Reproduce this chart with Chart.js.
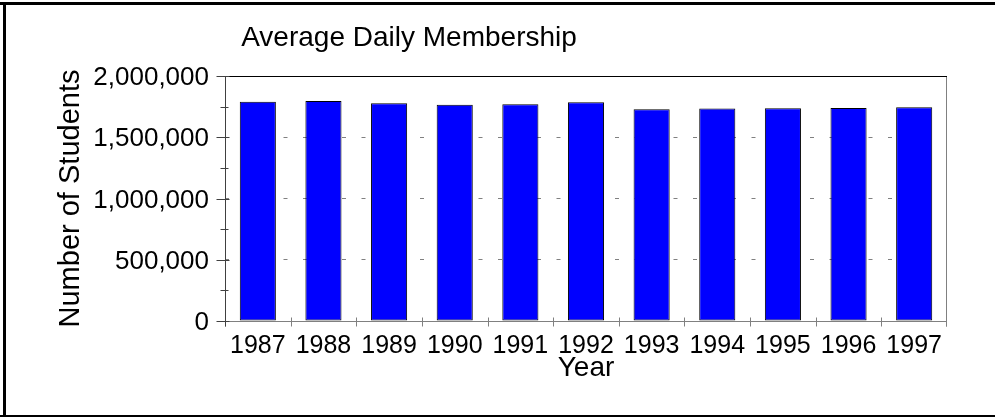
<!DOCTYPE html>
<html>
<head>
<meta charset="UTF-8">
<title>Average Daily Membership</title>
<script src="https://cdn.jsdelivr.net/npm/chart.js@4.4.0/dist/chart.umd.min.js"></script>
<style>
  html, body { margin: 0; padding: 0; background: #fff; }
  #wrap { width: 995px; height: 417px; }
</style>
</head>
<body>
<div id="wrap"><canvas id="chart" width="995" height="417"></canvas></div>
<script>
var years = ['1987', '1988', '1989', '1990', '1991', '1992', '1993', '1994', '1995', '1996', '1997'];
var students = [1790000, 1796000, 1777000, 1766000, 1769000, 1785000, 1728000, 1734000, 1736000, 1739000, 1744000];
var majorTicks = [0, 500000, 1000000, 1500000, 2000000];
var minorTicks = [250000, 750000, 1250000, 1750000];

var FONT = '"Liberation Sans", Arial, sans-serif';

// axis lines, tick marks, page frame and the title
var framePlugin = {
    id: 'frame',
    afterDatasetsDraw: function (chart) {
        var ctx = chart.ctx;
        var a = chart.chartArea;
        var xs = chart.scales.x, ys = chart.scales.y;
        ctx.save();
        ctx.lineWidth = 1;

        function seg(x1, y1, x2, y2, c) {
            ctx.strokeStyle = c;
            ctx.beginPath();
            ctx.moveTo(x1, y1);
            ctx.lineTo(x2, y2);
            ctx.stroke();
        }

        var L = Math.round(a.left) + 0.5, R = Math.round(a.right) - 0.5;
        var T = Math.round(a.top) + 0.5, B = Math.round(a.bottom) + 0.5;

        // bottom axis and x ticks at category boundaries
        seg(L, B, R, B, '#808080');
        var n = years.length;
        for (var i = 0; i <= n; i++) {
            var px = Math.round(xs.left + i * (xs.right - xs.left) / n) + 0.5;
            if (i === n) px = R;
            seg(px, B - 4, px, B + 5, '#808080');
        }
        // right and top edges
        seg(R, T, R, B + 5, '#808080');
        seg(L - 0.5, T, R + 0.5, T, '#000');

        // left axis with major / minor ticks
        seg(L, T, L, B + 5, '#404040');
        majorTicks.forEach(function (v) {
            var py = Math.round(ys.getPixelForValue(v)) + 0.5;
            seg(L - 9, py, L + 4, py, '#404040');
        });
        minorTicks.forEach(function (v) {
            var py = Math.round(ys.getPixelForValue(v)) + 0.5;
            seg(L - 5, py, L + 3, py, '#404040');
        });

        // outer frame (right side is cut off in the original)
        ctx.fillStyle = '#000';
        ctx.fillRect(0, 2, chart.width, 3);
        ctx.fillRect(3, 2, 3, chart.height);
        ctx.fillRect(0, 415, chart.width, 2);

        // title
        var t = chart.options.plugins.title;
        ctx.fillStyle = '#000';
        ctx.font = '28px ' + FONT;
        ctx.textAlign = 'center';
        ctx.textBaseline = 'alphabetic';
        ctx.fillText(t.text, 409, 46);
        ctx.restore();
    }
};

var ctx = document.getElementById('chart').getContext('2d');
var chart = new Chart(ctx, {
    type: 'bar',
    data: {
        labels: years,
        datasets: [{
            label: 'Average Daily Membership',
            data: students,
            backgroundColor: '#0000ff',
            borderColor: '#000000',
            borderWidth: 1,
            borderSkipped: false,
            barPercentage: 0.55,
            categoryPercentage: 1.0
        }]
    },
    options: {
        responsive: false,
        animation: false,
        devicePixelRatio: 1,
        layout: { padding: { left: 0, top: 76, right: 48, bottom: 0 } },
        plugins: {
            legend: { display: false },
            tooltip: { enabled: false },
            title: { display: false, text: 'Average Daily Membership' }
        },
        scales: {
            x: {
                grid: { display: false },
                border: { display: false },
                ticks: {
                    color: '#000',
                    font: { family: FONT, size: 25 },
                    padding: 2,
                    maxRotation: 0,
                    autoSkip: false
                },
                title: {
                    display: true,
                    text: 'Year',
                    color: '#000',
                    font: { family: FONT, size: 28 },
                    padding: { top: 0, bottom: 32 }
                },
                afterFit: function (s) { s.height = 96; }
            },
            y: {
                min: 0,
                max: 2000000,
                afterBuildTicks: function (s) {
                    s.ticks = majorTicks.map(function (v) { return { value: v }; });
                },
                grid: {
                    drawTicks: false,
                    lineWidth: 1,
                    color: function (c) {
                        var v = c.tick ? c.tick.value : 0;
                        return (v === 0 || v === 2000000) ? 'rgba(0,0,0,0)' : '#808080';
                    }
                },
                border: { display: false, dash: [4, 15.5] },
                ticks: {
                    color: '#000',
                    font: { family: FONT, size: 26 },
                    padding: 16,
                    labelOffset: 2,
                    callback: function (v) { return Number(v).toLocaleString('en-US'); }
                },
                title: {
                    display: true,
                    text: 'Number of Students',
                    color: '#000',
                    font: { family: FONT, size: 29 },
                    padding: { top: 54, bottom: 0 }
                },
                afterFit: function (s) { s.width = 225; }
            }
        }
    },
    plugins: [framePlugin]
});
</script>
</body>
</html>
